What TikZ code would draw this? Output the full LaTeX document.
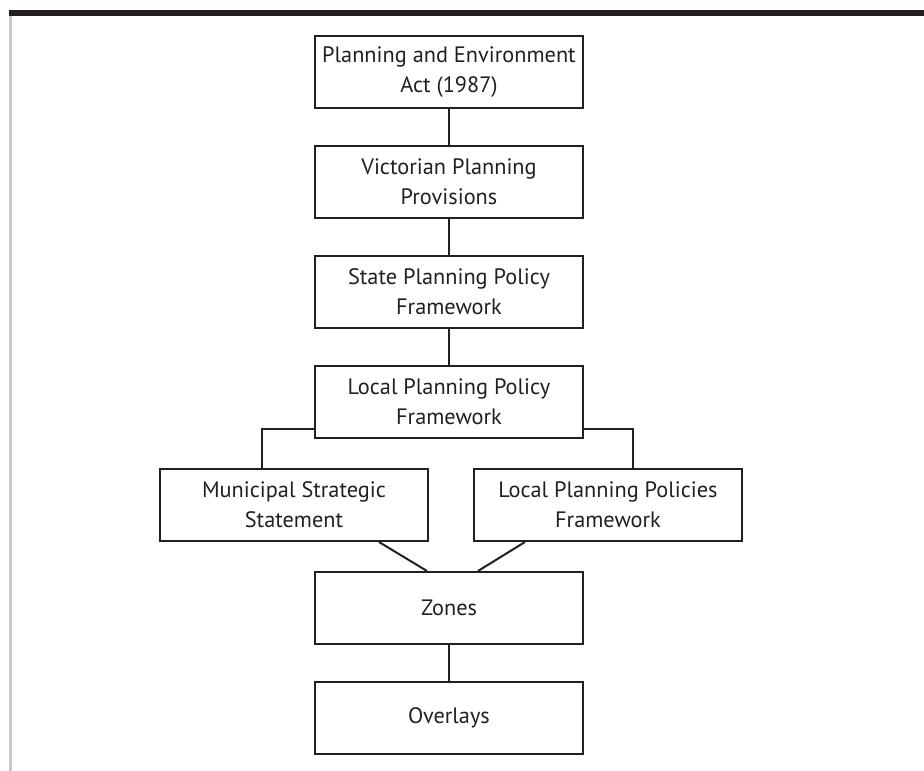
\documentclass[tikz,border=0pt]{standalone}
\usepackage{fontspec}
\setmainfont{PT Sans}
\usepackage{xcolor}
\usepackage{tikz}
\definecolor{ink}{HTML}{231F20}
\definecolor{rule}{HTML}{C8C8C8}

\begin{document}
\begin{tikzpicture}[x=1pt, y=-1pt,
    every node/.style={font=\fontsize{22.3}{30}\selectfont, text=ink},
    box/.style={draw=ink, line width=2pt, minimum width=268pt, minimum height=72pt,
      inner sep=0pt, align=center},
    link/.style={draw=ink, line width=2pt}]
  \useasboundingbox (0,0) rectangle (924,771);
  \fill[ink] (9,10) rectangle (924,16);
  \fill[rule] (9,16) rectangle (12,771);
  \node[box] (act)   at (449,72)  {Planning and Environment\\Act (1987)};
  \node[box] (vpp)   at (449,182) {Victorian Planning\\Provisions};
  \node[box] (sppf)  at (449,292) {State Planning Policy\\Framework};
  \node[box] (lppf)  at (449,402) {Local Planning Policy\\Framework};
  \node[box] (mss)   at (294,505) {Municipal Strategic\\Statement};
  \node[box] (lpp)   at (608,505) {Local Planning Policies\\Framework};
  \node[box] (zones) at (449,608) {Zones};
  \node[box] (over)  at (449,718) {Overlays};
  \draw[link] (act) -- (vpp);
  \draw[link] (vpp) -- (sppf);
  \draw[link] (sppf) -- (lppf);
  \draw[link] ([yshift=10pt]lppf.south west) -| ([xshift=-32pt]mss.north);
  \draw[link] ([yshift=10pt]lppf.south east) -| ([xshift=25pt]lpp.north);
  \draw[link] ([xshift=85pt]mss.south) -- ([xshift=-22pt]zones.north);
  \draw[link] ([xshift=-83pt]lpp.south) -- ([xshift=29pt]zones.north);
  \draw[link] (zones) -- (over);
\end{tikzpicture}
\end{document}
